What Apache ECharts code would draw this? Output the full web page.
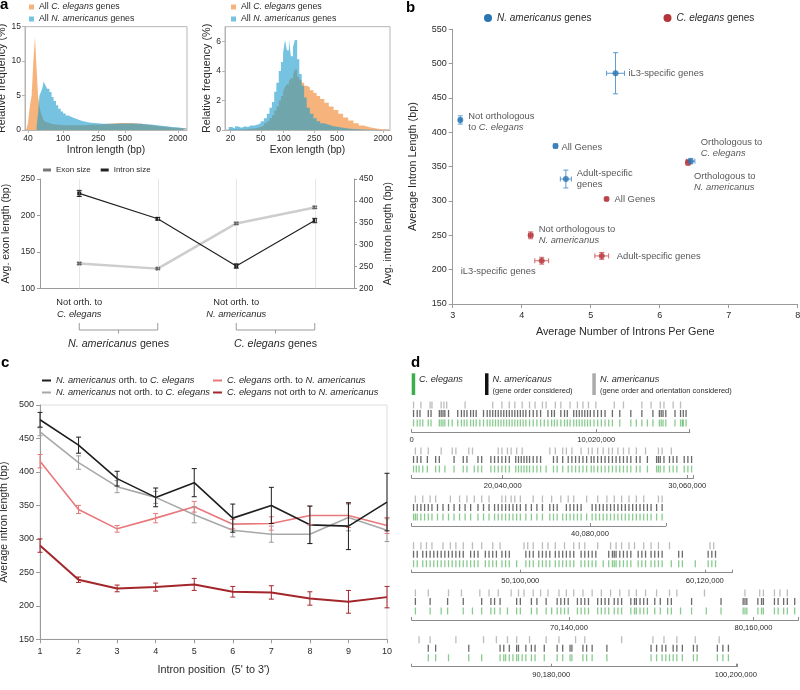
<!DOCTYPE html>
<html><head><meta charset="utf-8">
<script src="https://cdn.jsdelivr.net/npm/echarts@6/dist/echarts.min.js"></script>
<style>html,body{margin:0;padding:0;background:#fff}#c{width:800px;height:690px}</style>
</head><body><div id="c"></div><script>
// ================= DATA =================
// Panel a (top): histograms (bin left edges in bp, last value = right edge; relative frequency %)
const intronEdges = [38,40,42,44,46,48,50,52,54,56,58,60,63,66,70,74,78,83,88,94,100,107,115,125,135,150,165,185,205,230,260,290,330,370,420,470,530,600,680,770,870,1000,1150,1300,1500,1700,1950,2250,2530];
const intronCe = [0,1,3.5,5,10,13.5,9,5,3.5,2.5,2,1.5,1.2,1,0.9,0.85,0.8,0.75,0.75,0.7,0.7,0.7,0.7,0.7,0.7,0.7,0.7,0.75,0.75,0.8,0.85,0.9,0.95,1,1,1,1,0.95,0.9,0.8,0.7,0.6,0.5,0.45,0.35,0.3,0.25,0.2];
const intronNa = [0,0,0,0,0,0,0.3,2.5,5,5.5,6,7,6.5,6,5.5,4.8,4.2,3.6,3.1,2.7,2.4,2.1,1.9,1.7,1.5,1.3,1.15,1.05,1.0,0.95,0.9,0.9,0.9,0.9,0.95,0.95,0.95,0.95,0.9,0.85,0.8,0.7,0.6,0.55,0.45,0.4,0.3,0.25];
const exonEdges = [17,19,21,23,25,28,31,34,37,41,45,50,55,60,65,70,75,80,86,92,98,104,110,117,124,132,140,150,160,172,185,200,220,245,270,300,340,390,450,520,600,700,820,960,1120,1300,1550,1850,2200,2470];
const exonNa = [0,0.2,0.1,0.25,0.15,0.25,0.2,0.3,0.3,0.35,0.45,0.6,0.8,1.1,1.5,1.9,2.6,3.2,4.0,4.6,5.2,6.1,5.4,6.2,5.0,5.6,6.1,4.8,3.8,3.0,2.2,1.5,1.1,0.8,0.6,0.45,0.35,0.25,0.2,0.15,0.1,0.07,0.05,0.03,0.02,0.01,0,0,0];
const exonCe = [0,0,0,0,0,0.05,0.05,0.1,0.1,0.15,0.2,0.3,0.45,0.6,0.8,1.0,1.3,1.6,2.0,2.3,2.6,2.9,3.1,3.3,3.5,3.7,4.1,3.6,3.4,3.2,3.0,2.9,2.7,2.5,2.3,2.1,1.85,1.6,1.35,1.1,0.85,0.65,0.45,0.3,0.2,0.12,0.07,0.04,0.02];
const intronTicks = [40,100,250,500,2000];
const exonTicks = [20,50,100,250,500,2000];

// Panel a (bottom)
const aCats = ['Not orth. to C. elegans','Orth. to C. elegans','Not orth. to N. americanus','Orth. to N. americanus'];
const aCatLine1 = ['Not orth. to','Orth. to','Not orth. to','Orth. to'];
const aCatSpecies = ['C. elegans','C. elegans','N. americanus','N. americanus'];
const exonSize = [134,127,189,211];
const exonSizeErr = [1.5,1,1.5,1.5];
const intronSize = [417,359,251,355];
const intronSizeErr = [7,3,5,5];

// Panel b
const naLabels = ['iL3-specific genes','Not orthologous\nto {i|C. elegans}','All Genes','Adult-specific\ngenes','Orthologous to\n{i|C. elegans}'];
const naX = [5.36,3.11,4.49,4.64,6.45];
const naY = [486,418,380,332,358];
const naXErr = [0.13,0.02,0.03,0.08,0.06];
const naYErr = [30,6,3,13,4];
const ceLabels = ['Orthologous to\n{i|N. americanus}','All Genes','Not orthologous to\n{i|N. americanus}','iL3-specific genes','Adult-specific genes'];
const ceX = [6.41,5.23,4.13,4.29,5.16];
const ceY = [356,303,250,213,220];
const ceXErr = [0.03,0.02,0.03,0.1,0.1];
const ceYErr = [4,2,5,5,5];

// Panel c
const cPos = ['1','2','3','4','5','6','7','8','9','10'];
const cNaOrth = [478,440,390,362,384,331,350,321,319,355];
const cNaOrthErr = [11,12,11,14,21,21,27,28,35,43];
const cNaNot = [460,414,378,362,336,313,307,307,332,313];
const cNaNotErr = [6,10,9,9,12,10,12,14,20,17];
const cCeOrth = [416,344,315,331,348,322,323,335,335,320];
const cCeOrthErr = [10,6,5,7,8,7,10,14,18,12];
const cCeNot = [290,239,226,228,232,221,220,211,206,213];
const cCeNotErr = [10,4,5,6,9,8,10,10,17,16];

// Panel d (positions in Mb on the concatenated C. elegans genome)
const chromStart = [0,15.1,30.4,44.2,61.6,82.6];
const chromEnd = [15.1,30.4,44.2,61.6,82.6,100.3];
const dTickMb = [0,10.02,20.04,30.06,40.08,50.1,60.12,70.14,80.16,90.18,100.2];
const ceTrack = [
 0.1,0.3,0.45,0.6,0.9,1.05,1.5,1.6,1.7,1.8,2.0,2.2,2.5,2.7,2.85,3.0,3.2,3.35,3.5,3.7,3.9,4.1,4.25,4.4,4.55,4.7,4.85,5.0,5.15,5.3,5.45,5.6,5.75,5.9,6.05,6.2,6.4,6.6,6.8,7.0,7.2,7.4,7.6,7.75,7.9,8.1,8.3,8.45,8.6,8.8,8.95,9.1,9.25,9.4,9.55,9.7,9.9,10.1,10.3,10.5,10.7,10.9,11.3,11.9,12.2,12.5,12.8,13.1,13.45,13.55,13.65,13.8,14.3,14.6,14.7,14.75,14.9,
 15.2,15.35,15.5,15.7,15.95,16.4,16.6,16.9,17.4,17.9,18.1,18.5,18.7,18.9,19.4,19.6,19.8,20.0,20.2,20.4,20.75,20.9,21.05,21.2,21.35,21.5,21.7,21.9,22.1,22.4,22.8,23.0,23.3,23.6,23.8,24.0,24.2,24.4,24.6,24.85,25.0,25.2,25.4,25.6,25.8,26.0,26.2,26.4,26.6,26.8,27.0,27.3,27.5,27.9,28.4,28.5,28.6,28.8,29.1,29.3,29.5,29.9,30.1,30.3,
 30.5,30.6,30.7,30.9,31.1,31.3,31.5,31.8,32.1,32.4,32.7,33.0,33.3,33.6,34.0,34.3,34.6,34.9,35.1,35.3,35.5,35.7,35.9,36.1,36.3,36.6,36.9,37.2,37.5,37.9,38.1,38.3,38.6,38.8,39.0,39.2,39.4,39.6,39.9,40.2,40.4,40.6,40.8,41.0,41.2,41.4,41.6,41.8,42.0,42.2,42.4,42.6,42.8,43.0,43.2,43.4,43.7,44.0,
 44.3,44.5,44.8,45.0,45.2,45.4,45.6,45.8,46.0,46.2,46.4,46.6,46.8,47.0,47.2,47.4,47.6,47.8,48.2,48.4,48.6,48.8,49.1,49.3,49.5,49.9,50.4,50.6,50.8,51.1,51.3,51.5,51.7,52.0,52.2,52.4,52.6,52.8,53.0,53.4,53.6,53.8,54.0,54.2,54.6,54.9,55.1,55.2,55.3,55.5,55.7,55.9,56.1,56.5,56.7,56.9,57.2,57.4,57.6,57.8,58.3,58.7,58.9,59.6,60.3,60.5,60.7,
 61.8,62.6,63.2,63.55,64.4,64.9,65.4,65.9,66.1,66.4,66.8,67.3,67.5,68.1,68.4,68.9,69.2,69.5,69.7,69.9,70.1,70.6,70.8,71.0,71.2,71.7,71.9,72.1,72.3,72.6,72.8,73.0,73.5,73.7,73.8,74.0,74.2,74.4,74.8,75.1,75.5,75.7,76.2,76.8,77.6,78.4,79.6,79.7,79.8,80.4,80.6,80.7,81.3,81.5,81.8,82.0,82.4,
 83.5,83.9,84.6,85.7,86.4,87.4,87.6,87.7,87.9,88.1,88.3,88.4,88.6,88.8,89.1,89.3,89.8,90.5,90.8,91.2,91.3,91.9,92.1,92.4,93.2,95.6,95.9,96.2,96.4,96.6,96.8,97.0,97.3,97.9,98.1,99.2,99.5,99.8
];
const naOrderTrack = [
 0.1,0.3,0.45,0.9,1.05,1.5,1.6,1.7,1.8,2.0,2.5,2.7,2.85,3.0,3.2,3.35,3.5,3.9,4.1,4.25,4.4,4.55,4.7,4.85,5.0,5.15,5.3,5.45,5.6,5.75,5.9,6.05,6.2,6.4,6.6,6.8,7.0,7.4,7.6,7.75,8.1,8.3,8.45,8.8,8.95,9.1,9.25,9.4,9.55,9.7,9.9,10.1,10.3,10.5,10.9,11.3,11.9,12.5,13.1,13.45,13.55,13.65,13.8,14.3,14.6,14.75,14.9,
 15.2,15.4,15.6,15.95,16.4,16.6,17.4,17.9,18.1,18.7,18.9,19.4,19.6,19.8,20.0,20.2,20.4,20.75,20.9,21.05,21.2,21.35,21.5,21.7,21.9,22.1,22.8,23.0,23.3,23.6,23.8,24.0,24.2,24.4,24.6,24.85,25.0,25.2,25.4,25.6,25.8,26.0,26.2,26.4,26.6,26.8,27.0,27.3,27.5,27.9,28.4,28.5,28.6,28.8,29.1,29.3,29.5,29.9,30.1,30.3,
 30.5,30.7,30.9,31.1,31.3,31.5,31.8,32.1,32.4,32.7,33.0,33.3,33.6,34.0,34.3,34.6,34.9,35.1,35.3,35.5,35.7,35.9,36.1,36.3,36.6,36.9,37.2,37.5,37.9,38.1,38.3,38.8,39.0,39.2,39.4,39.6,40.2,40.4,40.6,40.8,41.0,41.2,41.4,41.6,41.8,42.0,42.2,42.4,42.6,42.8,43.0,43.2,43.4,43.7,44.0,
 44.3,44.5,44.8,45.0,45.2,45.4,45.6,45.8,46.0,46.2,46.4,46.6,46.8,47.0,47.4,47.6,47.8,48.2,48.4,48.6,48.8,49.1,49.3,49.5,50.4,50.6,50.8,51.1,51.3,51.5,51.7,52.0,52.2,52.4,52.6,52.8,53.0,53.4,53.6,53.8,54.0,54.2,54.9,55.1,55.2,55.3,55.5,55.7,55.9,56.1,56.5,56.7,56.9,57.2,57.4,57.6,57.8,58.7,58.9,60.3,60.5,60.7,
 61.8,62.6,63.55,64.4,65.4,65.9,66.1,66.4,67.3,67.5,68.1,68.4,68.9,69.5,69.7,69.9,70.1,70.6,70.8,71.0,71.2,71.7,71.9,72.1,72.3,72.6,72.8,73.0,73.5,73.7,73.8,74.0,74.2,74.4,74.8,75.1,75.5,75.7,76.8,78.4,79.6,79.7,79.8,80.4,80.6,80.7,81.3,81.5,81.8,82.0,82.4,
 83.5,83.9,85.7,87.4,87.6,87.9,88.3,88.4,88.8,89.1,89.3,89.8,90.5,90.8,91.2,91.3,91.9,92.1,92.4,93.2,95.6,95.9,96.2,96.4,96.8,97.0,97.3,97.9,98.1,99.2,99.5,99.8
];
const naOrientTrack = [
 0.1,0.5,1.0,1.1,1.6,1.75,1.9,2.9,4.4,4.9,5.3,5.6,6.0,6.4,6.7,7.1,7.3,7.8,8.1,8.6,9.0,9.3,9.6,10.0,11.0,11.5,12.5,13.0,13.5,13.7,14.2,14.6,
 15.3,15.6,16.0,16.7,17.3,17.5,18.2,18.4,19.8,20.0,20.3,20.5,20.8,21.1,22.6,22.9,23.3,23.5,23.8,24.3,24.7,24.9,25.2,25.5,25.8,26.0,26.3,26.6,26.9,27.3,27.8,28.5,28.7,29.2,
 30.6,31.0,31.4,31.7,32.5,33.0,33.4,33.8,34.2,34.6,35.3,35.5,35.8,36.0,36.3,37.0,37.5,38.0,38.5,38.9,39.2,39.9,40.5,41.0,41.4,41.8,42.2,42.6,43.0,43.8,44.0,
 44.3,44.7,45.0,45.3,45.9,46.3,46.6,47.0,47.5,48.0,48.6,49.0,50.3,50.5,50.8,51.3,51.6,52.0,52.5,53.0,53.3,53.6,54.3,55.0,55.3,55.6,56.0,56.3,56.8,57.2,57.6,58.2,60.4,60.6,
 61.8,62.5,63.6,64.3,65.3,65.8,66.3,67.0,67.4,67.7,68.2,68.6,69.0,69.6,70.0,70.4,70.9,71.4,71.9,72.4,72.9,73.4,73.8,74.3,74.9,75.6,76.0,77.5,79.7,80.5,80.7,81.3,81.6,82.0,
 83.0,83.6,85.0,86.5,87.2,87.8,88.3,89.0,89.9,90.6,91.5,92.0,94.0,95.7,96.3,97.0,98.0,99.3
];

// ================= LAYOUT / STYLE =================
const FONT = '"Liberation Sans", Arial, Helvetica, sans-serif';
const ORANGE = '#f6b47c';
const BLUE = 'rgba(25,155,205,0.6)';
const AX = '#9a9a9a';
const TXT = '#2a2a2a';
const NA_COL = '#2a74b0', CE_COL = '#b5343b';
const ital = (fs) => ({ i: { fontStyle: 'italic', fontSize: fs, fontFamily: FONT, color: TXT } });
const nameRich = {
  'All C. elegans genes': 'All {i|C. elegans} genes',
  'All N. americanus genes': 'All {i|N. americanus} genes',
  'N. americanus genes': '{i|N. americanus} genes',
  'C. elegans genes': '{i|C. elegans} genes',
  'N. americanus orth. to C. elegans': '{i|N. americanus} orth. to {i|C. elegans}',
  'N. americanus not orth. to C. elegans': '{i|N. americanus} not orth. to {i|C. elegans}',
  'C. elegans orth. to N. americanus': '{i|C. elegans} orth. to {i|N. americanus}',
  'C. elegans not orth to N. americanus': '{i|C. elegans} not orth to {i|N. americanus}'
};
const PX_PER_MB = 184.5 / 10.02;
const dAxisY = [432, 478, 526, 572.7, 620, 666.7];
const dTrackY = { orient: 27, order: 18.5, ce: 9 };

function histData(edges, vals) { return edges.map((e, i) => [e, i < vals.length ? vals[i] : 0]); }
function errRender(color, cap) {
  return function (params, api) {
    const x = api.value(0), y = api.value(1), ex = api.value(2), ey = api.value(3);
    const st = { stroke: color, lineWidth: 1 };
    const ch = [];
    if (ey > 0) {
      const t = api.coord([x, y + ey]), b = api.coord([x, y - ey]);
      ch.push({ type: 'line', shape: { x1: t[0], y1: t[1], x2: b[0], y2: b[1] }, style: st });
      ch.push({ type: 'line', shape: { x1: t[0] - cap, y1: t[1], x2: t[0] + cap, y2: t[1] }, style: st });
      ch.push({ type: 'line', shape: { x1: b[0] - cap, y1: b[1], x2: b[0] + cap, y2: b[1] }, style: st });
    }
    if (ex > 0) {
      const l = api.coord([x - ex, y]), r = api.coord([x + ex, y]);
      ch.push({ type: 'line', shape: { x1: l[0], y1: l[1], x2: r[0], y2: r[1] }, style: st });
      ch.push({ type: 'line', shape: { x1: l[0], y1: l[1] - cap, x2: l[0], y2: l[1] + cap }, style: st });
      ch.push({ type: 'line', shape: { x1: r[0], y1: r[1] - cap, x2: r[0], y2: r[1] + cap }, style: st });
    }
    return { type: 'group', children: ch };
  };
}
function errSeries(name, xi, yi, data, color, cap, z, legendColor) {
  return { type: 'custom', name: name, xAxisIndex: xi, yAxisIndex: yi, data: data, renderItem: errRender(color, cap),
    encode: { x: 0, y: 1 }, silent: true, z: z || 5, clip: false,
    color: legendColor || color, itemStyle: { color: legendColor || color } };
}
const axLab = (fs) => ({ fontSize: fs, color: TXT, fontFamily: FONT });
const axName = (fs) => ({ fontSize: fs, color: TXT, fontFamily: FONT });

// ================= OPTION =================
const grids = [
  { left: 25, top: 26.7, width: 162, height: 103.3, show: true, borderColor: '#b5b5b5', borderWidth: 1 },
  { left: 225, top: 26.7, width: 165, height: 103.3, show: true, borderColor: '#b5b5b5', borderWidth: 1 },
  { left: 40, top: 179, width: 314, height: 109.3 },
  { left: 452.7, top: 29.3, width: 345, height: 274.7 },
  { left: 40, top: 405, width: 347, height: 234.3, show: true, borderColor: '#dedede', borderWidth: 1 }
];
const xAxes = [
  { gridIndex: 0, type: 'log', logBase: 10, min: 37, max: 2530,
    axisLine: { lineStyle: { color: '#b5b5b5' } }, splitLine: { show: false }, minorTick: { show: false },
    axisTick: { customValues: intronTicks, length: 3, lineStyle: { color: '#b5b5b5' } },
    axisLabel: Object.assign({ customValues: intronTicks, margin: 4, formatter: v => String(Math.round(v)) }, axLab(8.5)),
    name: 'Intron length (bp)', nameLocation: 'middle', nameGap: 15, nameTextStyle: axName(10.3) },
  { gridIndex: 1, type: 'log', logBase: 10, min: 17, max: 2470,
    axisLine: { lineStyle: { color: '#b5b5b5' } }, splitLine: { show: false }, minorTick: { show: false },
    axisTick: { customValues: exonTicks, length: 3, lineStyle: { color: '#b5b5b5' } },
    axisLabel: Object.assign({ customValues: exonTicks, margin: 4, formatter: v => String(Math.round(v)) }, axLab(8.5)),
    name: 'Exon length (bp)', nameLocation: 'middle', nameGap: 15, nameTextStyle: axName(10.3) },
  { gridIndex: 2, type: 'category', data: aCats, boundaryGap: true,
    axisLine: { lineStyle: { color: AX } }, axisTick: { show: false }, splitLine: { show: false },
    axisLabel: { margin: 8, fontSize: 9.3, color: TXT, fontFamily: FONT, lineHeight: 12,
      formatter: (v, i) => aCatLine1[i] + '\n{i|' + aCatSpecies[i] + '}', rich: ital(9.3) } },
  { gridIndex: 3, type: 'value', min: 3, max: 8, interval: 1,
    axisLine: { lineStyle: { color: AX } }, axisTick: { length: 4, lineStyle: { color: AX } }, splitLine: { show: false },
    axisLabel: Object.assign({ margin: 7 }, axLab(9)),
    name: 'Average Number of Introns Per Gene', nameLocation: 'middle', nameGap: 23, nameTextStyle: axName(10.8) },
  { gridIndex: 4, type: 'category', data: cPos, boundaryGap: false,
    axisLine: { lineStyle: { color: AX } }, axisTick: { length: 4, lineStyle: { color: AX } }, splitLine: { show: false },
    axisLabel: Object.assign({ margin: 8 }, axLab(9)),
    name: "Intron position  (5' to 3')", nameLocation: 'middle', nameGap: 25, nameTextStyle: axName(10.8) }
];
const yAxes = [
  { gridIndex: 0, type: 'value', min: 0, max: 15, interval: 5,
    axisLine: { show: true, lineStyle: { color: '#b5b5b5' } }, axisTick: { show: true, length: 3, lineStyle: { color: '#b5b5b5' } },
    splitLine: { show: false }, axisLabel: Object.assign({ margin: 4 }, axLab(8.5)),
    name: 'Relative frequency (%)', nameLocation: 'middle', nameGap: 13, nameTextStyle: axName(10.8) },
  { gridIndex: 1, type: 'value', min: 0, max: 7, interval: 2,
    axisLine: { show: true, lineStyle: { color: '#b5b5b5' } }, axisTick: { show: true, length: 3, lineStyle: { color: '#b5b5b5' } },
    splitLine: { show: false }, axisLabel: Object.assign({ margin: 4, showMaxLabel: false }, axLab(8.5)),
    name: 'Relative frequency (%)', nameLocation: 'middle', nameGap: 10, nameTextStyle: axName(10.8) },
  { gridIndex: 2, type: 'value', min: 100, max: 250, interval: 50, position: 'left',
    axisLine: { show: true, lineStyle: { color: AX } }, axisTick: { show: true, length: 3, lineStyle: { color: AX } },
    splitLine: { show: false }, axisLabel: Object.assign({ margin: 5 }, axLab(8.5)),
    name: 'Avg. exon length (bp)', nameLocation: 'middle', nameGap: 28, nameTextStyle: axName(10.5) },
  { gridIndex: 2, type: 'value', min: 200, max: 450, interval: 50, position: 'right',
    axisLine: { show: true, lineStyle: { color: AX } }, axisTick: { show: true, length: 3, lineStyle: { color: AX } },
    splitLine: { show: false }, axisLabel: Object.assign({ margin: 5 }, axLab(8.5)),
    name: 'Avg. intron length (bp)', nameLocation: 'middle', nameGap: 29, nameTextStyle: axName(10.5) },
  { gridIndex: 3, type: 'value', min: 150, max: 550, interval: 50,
    axisLine: { show: true, lineStyle: { color: AX } }, axisTick: { show: true, length: 4, lineStyle: { color: AX } },
    splitLine: { show: false }, axisLabel: Object.assign({ margin: 6 }, axLab(9)),
    name: 'Average Intron Length (bp)', nameLocation: 'middle', nameGap: 34, nameTextStyle: axName(10.8) },
  { gridIndex: 4, type: 'value', min: 150, max: 500, interval: 50,
    axisLine: { show: true, lineStyle: { color: AX } }, axisTick: { show: true, length: 4, lineStyle: { color: AX } },
    splitLine: { show: false }, axisLabel: Object.assign({ margin: 6 }, axLab(9)),
    name: 'Average intron length (bp)', nameLocation: 'middle', nameGap: 30, nameTextStyle: axName(10.5) }
];

const LBL = 9.4;
const series = [
  { type: 'line', name: 'All C. elegans genes', xAxisIndex: 0, yAxisIndex: 0, data: histData(intronEdges, intronCe),
    step: 'end', symbol: 'none', lineStyle: { width: 0 }, areaStyle: { color: ORANGE, opacity: 1 }, color: ORANGE, z: 2 },
  { type: 'line', name: 'All N. americanus genes', xAxisIndex: 0, yAxisIndex: 0, data: histData(intronEdges, intronNa),
    step: 'end', symbol: 'none', lineStyle: { width: 0 }, areaStyle: { color: BLUE, opacity: 1 }, color: BLUE, z: 3 },
  { type: 'line', name: 'All C. elegans genes', xAxisIndex: 1, yAxisIndex: 1, data: histData(exonEdges, exonCe),
    step: 'end', symbol: 'none', lineStyle: { width: 0 }, areaStyle: { color: ORANGE, opacity: 1 }, color: ORANGE, z: 2 },
  { type: 'line', name: 'All N. americanus genes', xAxisIndex: 1, yAxisIndex: 1, data: histData(exonEdges, exonNa),
    step: 'end', symbol: 'none', lineStyle: { width: 0 }, areaStyle: { color: BLUE, opacity: 1 }, color: BLUE, z: 3 },
  // a bottom
  { type: 'line', name: 'Exon size', xAxisIndex: 2, yAxisIndex: 2, data: exonSize, color: '#cdcdcd',
    lineStyle: { width: 2.5, color: '#cdcdcd' }, symbol: 'rect', symbolSize: 4, itemStyle: { color: '#777' }, z: 3,
    markLine: { silent: true, symbol: ['none', 'none'], label: { show: false }, lineStyle: { color: '#e6e6e6', type: 'solid', width: 1 },
      data: aCats.map(c => ({ xAxis: c })) } },
  { type: 'line', name: 'Intron size', xAxisIndex: 2, yAxisIndex: 3, data: intronSize, color: '#222',
    lineStyle: { width: 1.2, color: '#222' }, symbol: 'rect', symbolSize: 4, itemStyle: { color: '#222' }, z: 4 },
  errSeries('Exon size', 2, 2, exonSize.map((v, i) => [i, v, 0, exonSizeErr[i]]), '#666', 2.5, 5, '#cdcdcd'),
  errSeries('Intron size', 2, 3, intronSize.map((v, i) => [i, v, 0, intronSizeErr[i]]), '#222', 2.5),
  // b
  errSeries('N. americanus genes', 3, 4, naX.map((v, i) => [v, naY[i], naXErr[i], naYErr[i]]), '#5b9bd0', 2.5, 4, NA_COL),
  errSeries('C. elegans genes', 3, 4, ceX.map((v, i) => [v, ceY[i], ceXErr[i], ceYErr[i]]), '#d4686d', 2.5, 4, CE_COL),
  { type: 'scatter', name: 'N. americanus genes', xAxisIndex: 3, yAxisIndex: 4, symbol: 'circle', symbolSize: 6,
    itemStyle: { color: NA_COL }, color: NA_COL, z: 6,
    label: { show: true, fontSize: LBL, color: TXT, fontFamily: FONT, lineHeight: 11, rich: ital(LBL) },
    data: naX.map((v, i) => ({ value: [v, naY[i]], label: [
      { position: 'right', distance: 10, formatter: naLabels[i] },
      { position: 'right', distance: 5, offset: [0, 2], formatter: naLabels[i] },
      { position: 'right', distance: 3, offset: [0, 1], formatter: naLabels[i] },
      { position: 'right', distance: 8, formatter: naLabels[i] },
      { position: 'right', distance: 7, offset: [0, -13], formatter: naLabels[i] }][i] })) },
  { type: 'scatter', name: 'C. elegans genes', xAxisIndex: 3, yAxisIndex: 4, symbol: 'circle', symbolSize: 6,
    itemStyle: { color: CE_COL }, color: CE_COL, z: 5,
    label: { show: true, fontSize: LBL, color: TXT, fontFamily: FONT, lineHeight: 11, rich: ital(LBL) },
    data: ceX.map((v, i) => ({ value: [v, ceY[i]], label: [
      { position: 'right', distance: 3, offset: [0, 19], formatter: ceLabels[i] },
      { position: 'right', distance: 5, formatter: ceLabels[i] },
      { position: 'right', distance: 5, offset: [0, 0], formatter: ceLabels[i] },
      { position: 'left', distance: 3, offset: [0, 11], formatter: ceLabels[i] },
      { position: 'right', distance: 12, formatter: ceLabels[i] }][i] })) },
  // c
  { type: 'line', name: 'N. americanus orth. to C. elegans', xAxisIndex: 4, yAxisIndex: 5, data: cNaOrth, color: '#1e1e1e',
    lineStyle: { width: 1.6 }, symbol: 'none', z: 4 },
  { type: 'line', name: 'N. americanus not orth. to C. elegans', xAxisIndex: 4, yAxisIndex: 5, data: cNaNot, color: '#a8a8a8',
    lineStyle: { width: 1.6 }, symbol: 'none', z: 3 },
  { type: 'line', name: 'C. elegans orth. to N. americanus', xAxisIndex: 4, yAxisIndex: 5, data: cCeOrth, color: '#e8787b',
    lineStyle: { width: 1.6 }, symbol: 'none', z: 3 },
  { type: 'line', name: 'C. elegans not orth to N. americanus', xAxisIndex: 4, yAxisIndex: 5, data: cCeNot, color: '#a3262b',
    lineStyle: { width: 2 }, symbol: 'none', z: 3 },
  errSeries('N. americanus orth. to C. elegans', 4, 5, cNaOrth.map((v, i) => [i, v, 0, cNaOrthErr[i]]), '#1e1e1e', 2.5, 6),
  errSeries('N. americanus not orth. to C. elegans', 4, 5, cNaNot.map((v, i) => [i, v, 0, cNaNotErr[i]]), '#9a9a9a', 2.5, 5, '#a8a8a8'),
  errSeries('C. elegans orth. to N. americanus', 4, 5, cCeOrth.map((v, i) => [i, v, 0, cCeOrthErr[i]]), '#e8787b', 2.5, 5),
  errSeries('C. elegans not orth to N. americanus', 4, 5, cCeNot.map((v, i) => [i, v, 0, cCeNotErr[i]]), '#a3262b', 2.5, 5)
];

// d: one grid per chromosome row
chromStart.forEach((s, k) => {
  const e = chromEnd[k];
  grids.push({ left: 411.7, top: dAxisY[k] - 30, width: (e - s) * PX_PER_MB, height: 30 });
  const gi = grids.length - 1;
  const ticks = dTickMb.filter(t => t >= s - 1e-9 && t <= e);
  xAxes.push({ gridIndex: gi, type: 'value', min: s, max: e,
    axisLine: { lineStyle: { color: '#8a8a8a', width: 1 } },
    axisTick: { customValues: [s].concat(ticks, [e]), inside: true, length: 3, lineStyle: { color: '#8a8a8a' } },
    splitLine: { show: false },
    axisLabel: Object.assign({ customValues: ticks, margin: 4, formatter: v => Math.round(v * 1e6).toLocaleString('en-US') }, axLab(7.6)) });
  yAxes.push({ gridIndex: gi, type: 'value', min: 0, max: 30, show: false });
  const xi = xAxes.length - 1, yi = yAxes.length - 1;
  const tracks = [
    { arr: naOrientTrack, y: dTrackY.orient, color: '#8f8f8f', op: 0.6 },
    { arr: naOrderTrack, y: dTrackY.order, color: '#1a1a1a', op: 0.65 },
    { arr: ceTrack, y: dTrackY.ce, color: '#3aa845', op: 0.6 }
  ];
  tracks.forEach(t => {
    series.push({ type: 'scatter', xAxisIndex: xi, yAxisIndex: yi, symbol: 'rect', symbolSize: [1.3, 7], silent: true,
      itemStyle: { color: t.color, opacity: t.op },
      data: t.arr.filter(v => v >= s && v < e).map(v => [v, t.y]) });
  });
});
grids.forEach(g => { g.outerBoundsMode = 'none'; g.containLabel = false; });

const legends = [
  { left: 29, top: 2, padding: 0, orient: 'vertical', itemGap: 2, itemWidth: 5, itemHeight: 5, icon: 'rect', selectedMode: false,
    data: ['All C. elegans genes', 'All N. americanus genes'], formatter: n => nameRich[n],
    textStyle: { fontSize: 8.8, color: TXT, fontFamily: FONT, lineHeight: 10, rich: ital(8.8) } },
  { left: 231, top: 2, padding: 0, orient: 'vertical', itemGap: 2, itemWidth: 5, itemHeight: 5, icon: 'rect', selectedMode: false,
    data: ['All C. elegans genes', 'All N. americanus genes'], formatter: n => nameRich[n],
    textStyle: { fontSize: 8.8, color: TXT, fontFamily: FONT, lineHeight: 10, rich: ital(8.8) } },
  { left: 43, top: 166, padding: 0, orient: 'horizontal', itemGap: 10, itemWidth: 8, itemHeight: 3, icon: 'rect', selectedMode: false,
    data: ['Exon size', 'Intron size'], textStyle: { fontSize: 8, color: TXT, fontFamily: FONT } },
  { left: 484, top: 13, padding: 0, orient: 'horizontal', itemGap: 72, itemWidth: 8, itemHeight: 8, icon: 'circle', selectedMode: false,
    data: ['N. americanus genes', 'C. elegans genes'], formatter: n => nameRich[n],
    textStyle: { fontSize: 10, color: TXT, fontFamily: FONT, rich: ital(10) } },
  { left: 42, top: 375, padding: 0, orient: 'vertical', itemGap: 1, itemWidth: 9, itemHeight: 2, icon: 'rect', selectedMode: false,
    data: ['N. americanus orth. to C. elegans', 'N. americanus not orth. to C. elegans'], formatter: n => nameRich[n],
    textStyle: { fontSize: 9.3, color: TXT, fontFamily: FONT, lineHeight: 11, rich: ital(9.3) } },
  { left: 213, top: 375, padding: 0, orient: 'vertical', itemGap: 1, itemWidth: 9, itemHeight: 2, icon: 'rect', selectedMode: false,
    data: ['C. elegans orth. to N. americanus', 'C. elegans not orth to N. americanus'], formatter: n => nameRich[n],
    textStyle: { fontSize: 9.3, color: TXT, fontFamily: FONT, lineHeight: 11, rich: ital(9.3) } }
];

const chart = echarts.init(document.getElementById('c'), null, { width: 800, height: 690 });
chart.setOption({
  animation: false, backgroundColor: '#fff',
  textStyle: { fontFamily: FONT },
  grid: grids, xAxis: xAxes, yAxis: yAxes, series: series, legend: legends
});

// annotations (panel letters, brackets, d legend)
const px = i => chart.convertToPixel({ xAxisIndex: 2 }, aCats[i]);
const bracket = (i0, i1, label) => {
  const x0 = px(i0), x1 = px(i1), xm = (x0 + x1) / 2;
  return [
    { type: 'polyline', shape: { points: [[x0, 323], [x0, 330], [x1, 330], [x1, 323]] }, style: { stroke: '#9a9a9a', lineWidth: 1, fill: null } },
    { type: 'line', shape: { x1: xm, y1: 330, x2: xm, y2: 333.5 }, style: { stroke: '#9a9a9a', lineWidth: 1 } },
    { type: 'text', x: xm, y: 344, style: { text: label, rich: ital(10.7), font: '10.7px ' + FONT, fill: TXT, align: 'center', verticalAlign: 'middle' } }
  ];
};
const letter = (t, x, y) => ({ type: 'text', x: x, y: y, style: { text: t, font: 'bold 15px ' + FONT, fill: '#000', verticalAlign: 'top' } });
const graphic = [
  letter('a', 0, -3), letter('b', 406, 0), letter('c', 1, 355), letter('d', 411, 355),
  ...bracket(0, 1, '{i|N. americanus} genes'),
  ...bracket(2, 3, '{i|C. elegans} genes'),
  { type: 'rect', shape: { x: 411.7, y: 373.3, width: 3.5, height: 21.7 }, style: { fill: '#3cae4a' } },
  { type: 'text', x: 419, y: 379, style: { text: 'C. elegans', font: 'italic 9.2px ' + FONT, fill: TXT, verticalAlign: 'middle' } },
  { type: 'rect', shape: { x: 485, y: 373.3, width: 3.5, height: 21.7 }, style: { fill: '#111' } },
  { type: 'text', x: 492.5, y: 379, style: { text: 'N. americanus', font: 'italic 9.2px ' + FONT, fill: TXT, verticalAlign: 'middle' } },
  { type: 'text', x: 492.5, y: 391, style: { text: '(gene order considered)', font: '7.5px ' + FONT, fill: TXT, verticalAlign: 'middle' } },
  { type: 'rect', shape: { x: 592.3, y: 373.3, width: 3.5, height: 21.7 }, style: { fill: '#aaaaaa' } },
  { type: 'text', x: 600, y: 379, style: { text: 'N. americanus', font: 'italic 9.2px ' + FONT, fill: TXT, verticalAlign: 'middle' } },
  { type: 'text', x: 600, y: 391, style: { text: '(gene order and orientation considered)', font: '7.5px ' + FONT, fill: TXT, verticalAlign: 'middle' } }
];
chart.setOption({ graphic: graphic });
</script></body></html>
